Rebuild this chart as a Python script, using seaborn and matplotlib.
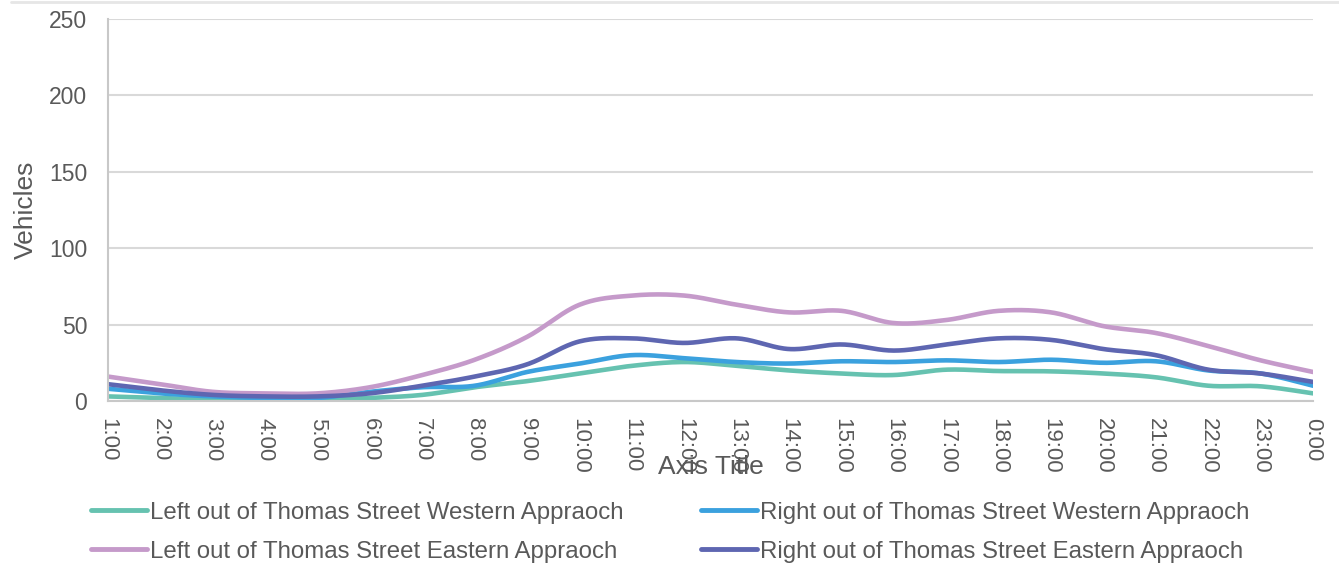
import numpy as np
import pandas as pd
import matplotlib
matplotlib.use("Agg")
import matplotlib.pyplot as plt
from matplotlib.lines import Line2D
import seaborn as sns

hours = ["1:00", "2:00", "3:00", "4:00", "5:00", "6:00", "7:00", "8:00", "9:00", "10:00",
         "11:00", "12:00", "13:00", "14:00", "15:00", "16:00", "17:00", "18:00", "19:00",
         "20:00", "21:00", "22:00", "23:00", "0:00"]

left_western = [3, 2, 1, 1, 1, 2, 4, 9, 13, 18, 23, 25.5, 23, 20, 18, 17, 20.5, 19.6, 19.4, 18, 15.5, 10, 9.6, 5]
right_western = [8, 5, 3, 2, 2, 6, 9, 10, 19, 24.5, 30, 28, 25.5, 24.5, 26, 25.5, 26.6, 25.5, 27, 25, 26, 20, 18, 10]
left_eastern = [16, 11, 6, 5, 5, 9, 17, 27, 42, 63, 69, 69, 63, 58, 59, 51, 53, 59, 58, 49, 44.5, 36, 26.6, 19]
right_eastern = [11, 7, 4, 3, 3, 5, 10, 16, 24, 39, 41, 38, 41, 34, 37, 33, 37, 41, 40, 34, 30, 20.5, 18, 12.5]

series_names = ["Left out of Thomas Street Western Appraoch",
                "Right out of Thomas Street Western Appraoch",
                "Left out of Thomas Street Eastern Appraoch",
                "Right out of Thomas Street Eastern Appraoch"]
series_values = [left_western, right_western, left_eastern, right_eastern]
colors = ["#66C2B0", "#3BA1DE", "#C59ACA", "#5E66B1"]

grey = "#595959"


def smooth(vals, n=30):
    # Bezier (Catmull-Rom style) smoothing like spreadsheet "smoothed line"
    p = np.asarray(vals, dtype=float)
    x = np.arange(len(p), dtype=float)
    xs, ys = [], []
    m = len(p)
    for i in range(m - 1):
        i0 = max(i - 1, 0)
        i3 = min(i + 2, m - 1)
        x0, x1, x2, x3 = x[i0], x[i], x[i + 1], x[i3]
        y0, y1, y2, y3 = p[i0], p[i], p[i + 1], p[i3]
        c1x, c1y = x1 + (x2 - x0) / 6, y1 + (y2 - y0) / 6
        c2x, c2y = x2 - (x3 - x1) / 6, y2 - (y3 - y1) / 6
        t = np.linspace(0, 1, n, endpoint=(i == m - 2))
        bx = (1 - t) ** 3 * x1 + 3 * (1 - t) ** 2 * t * c1x + 3 * (1 - t) * t ** 2 * c2x + t ** 3 * x2
        by = (1 - t) ** 3 * y1 + 3 * (1 - t) ** 2 * t * c1y + 3 * (1 - t) * t ** 2 * c2y + t ** 3 * y2
        xs.append(bx)
        ys.append(by)
    return np.concatenate(xs), np.concatenate(ys)


frames = []
for name, vals in zip(series_names, series_values):
    sx, sy = smooth(vals)
    frames.append(pd.DataFrame({"x": sx, "y": sy, "series": name}))
df = pd.concat(frames, ignore_index=True)

sns.set_theme(style="white")
plt.rcParams["font.family"] = ["Liberation Sans", "DejaVu Sans"]

fig = plt.figure(figsize=(13.39, 5.65), dpi=100)
ax = fig.add_axes([108 / 1339, 1 - 401 / 565, (1313 - 108) / 1339, (401 - 19) / 565])

sns.lineplot(data=df, x="x", y="y", hue="series", hue_order=series_names,
             palette=colors, linewidth=3.3, sort=False, estimator=None,
             legend=False, ax=ax)

ax.set_xlim(0, len(hours) - 1)
ax.set_ylim(0, 250)
ax.set_yticks([0, 50, 100, 150, 200, 250])
ax.set_xticks(np.arange(len(hours)))
ax.set_xticklabels(hours, rotation=-90, fontsize=16, color=grey)
ax.tick_params(axis="y", labelsize=16.5, labelcolor=grey, length=0, pad=15)
ax.tick_params(axis="x", length=0, pad=12)
for lbl in ax.get_xticklabels():
    lbl.set_va("top")
    lbl.set_ha("center")

ax.grid(axis="y", color="#D9D9D9", linewidth=1.5)
ax.set_axisbelow(True)
for s in ["top", "right"]:
    ax.spines[s].set_visible(False)
ax.spines["left"].set_color("#C8C8C8")
ax.spines["left"].set_linewidth(1.5)
ax.spines["bottom"].set_color("#C8C8C8")
ax.spines["bottom"].set_linewidth(1.5)

ax.set_ylabel("Vehicles", fontsize=19, color=grey)
ax.yaxis.set_label_coords(-0.058, 0.5)
ax.set_xlabel("Axis Title", fontsize=19, color=grey)
ax.xaxis.label.set_va("center")
ax.xaxis.set_label_coords(0.5, -0.172)

handles = [Line2D([0], [0], color=c, linewidth=3.5) for c in colors]
order = [0, 2, 1, 3]
fig.legend([handles[i] for i in order], [series_names[i] for i in order],
           loc="center", bbox_to_anchor=(0.5005, 0.058), ncol=2, frameon=False,
           fontsize=17.3, labelcolor=grey, handlelength=2.35, handletextpad=0.12,
           columnspacing=3.2, labelspacing=0.72)

fig.add_artist(Line2D([0.008, 1.0], [0.997, 0.997], transform=fig.transFigure,
                      color="#E6E6E6", linewidth=2))

fig.savefig("out.png", dpi=100, facecolor="white")
